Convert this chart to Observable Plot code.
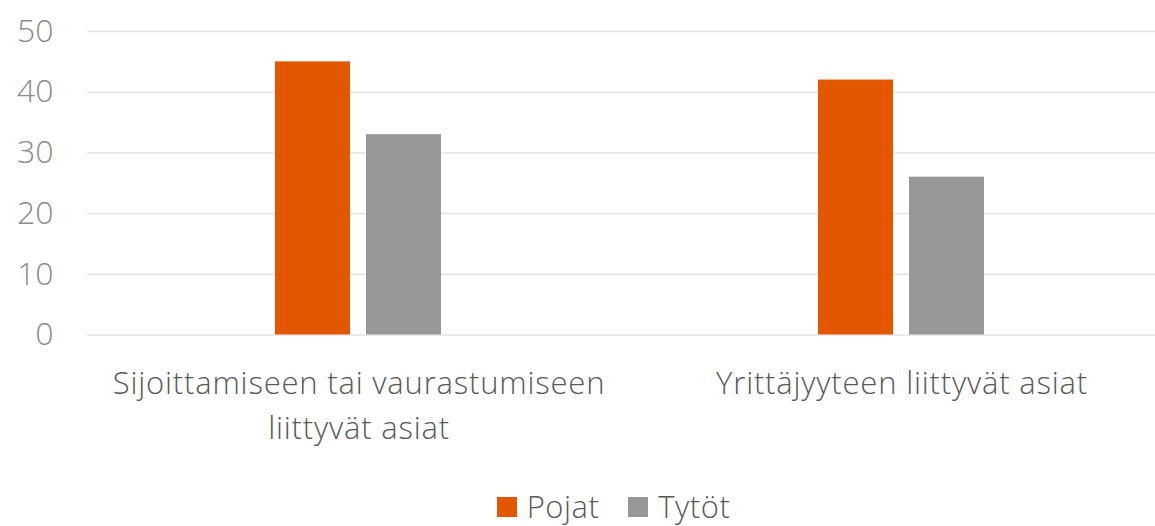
<!DOCTYPE html>
<html>
<head>
<meta charset="utf-8">
<script src="https://cdn.jsdelivr.net/npm/d3@7"></script>
<script src="https://cdn.jsdelivr.net/npm/@observablehq/plot@0.6"></script>
<style>
  html, body { margin: 0; padding: 0; background: #fff; }
  #chart { width: 1155px; height: 526px; overflow: hidden; position: relative; }
  .legend { position: absolute; left: 0; top: 491px; width: 1155px; box-sizing: border-box; padding-left: 72px;
    display: flex; justify-content: center; gap: 29px;
    font-family: "Open Sans", sans-serif; font-weight: 300; font-size: 31px; line-height: 31px; color: #595959; letter-spacing: 0.5px; }
  .legend span.item { display: flex; align-items: center; gap: 10px; }
  .legend span.sw { display: inline-block; width: 20px; height: 20px; }
  .fxlab text { letter-spacing: 0.8px; }
</style>
</head>
<body>
<div id="chart"></div>
<script>
const groups = ["Sijoittamiseen tai vaurastumiseen liittyvät asiat", "Yrittäjyyteen liittyvät asiat"];
const groupLabels = ["Sijoittamiseen tai vaurastumiseen\nliittyvät asiat", "Yrittäjyyteen liittyvät asiat"];
const series = ["Pojat", "Tytöt"];
const pojat = [45, 42];
const tytot = [33, 26];
const yTicks = [0, 10, 20, 30, 40, 50];
const colors = ["#E35700", "#979797"];

const data = [];
groups.forEach((g, i) => {
  data.push({group: g, series: series[0], value: pojat[i]});
  data.push({group: g, series: series[1], value: tytot[i]});
});

const chart = Plot.plot({
  width: 1155,
  height: 470,
  marginLeft: 86,
  marginRight: -18,
  marginTop: 31,
  marginBottom: 135.5,
  style: {fontFamily: "'Open Sans', sans-serif", background: "transparent"},
  fx: {domain: groups, paddingInner: 0, paddingOuter: 0, label: null},
  x: {domain: series, paddingInner: 16/92, paddingOuter: 2.04, align: 0.5, axis: null},
  y: {domain: [0, 50], ticks: yTicks, label: null},
  color: {domain: series, range: colors},
  marks: [
    Plot.ruleY(yTicks, {stroke: "#e3e3e3", strokeWidth: 1.5}),
    Plot.barY(data, {fx: "group", x: "series", y: "value", fill: "series"}),
    Plot.axisY(yTicks, {tickSize: 0, tickPadding: 34, fontSize: 32, fontWeight: 300, fill: "#8c8c8c", label: null, facetAnchor: "left"}),
    Plot.axisFx({anchor: "bottom", tickSize: 0, tickPadding: 27, fontSize: 31, fontWeight: 300, fill: "#595959", lineHeight: 1.45, label: null,
      className: "fxlab", tickFormat: d => groupLabels[groups.indexOf(d)]})
  ]
});
document.getElementById("chart").appendChild(chart);

const legend = document.createElement("div");
legend.className = "legend";
series.forEach((s, i) => {
  const item = document.createElement("span");
  item.className = "item";
  const sw = document.createElement("span");
  sw.className = "sw";
  sw.style.background = colors[i];
  item.appendChild(sw);
  item.appendChild(document.createTextNode(s));
  legend.appendChild(item);
});
document.getElementById("chart").appendChild(legend);
</script>
</body>
</html>
